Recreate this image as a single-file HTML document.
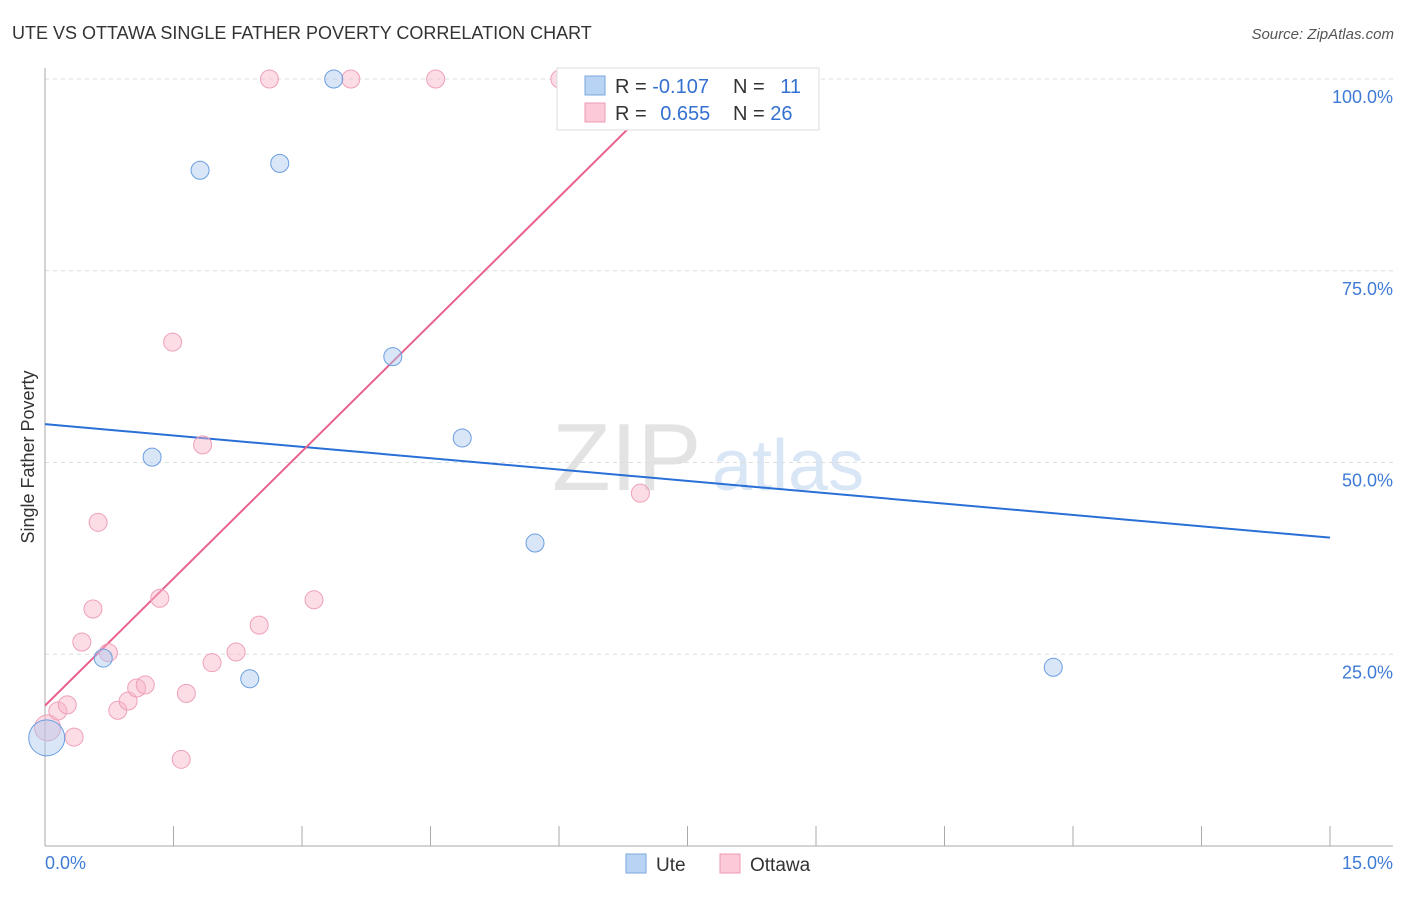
<!DOCTYPE html>
<html><head><meta charset="utf-8"><style>
body{margin:0;background:#fff;font-family:"Liberation Sans",sans-serif}
svg text{font-family:"Liberation Sans",sans-serif}
</style></head><body>
<svg id="chart" width="1406" height="892">
<text x="12" y="39" font-size="18" fill="#333">UTE VS OTTAWA SINGLE FATHER POVERTY CORRELATION CHART</text>
<text x="1394" y="39" font-size="15" fill="#555" font-style="italic" text-anchor="end">Source: ZipAtlas.com</text>
<text x="0" y="0" transform="translate(34,457) rotate(-90)" font-size="18" fill="#333" text-anchor="middle">Single Father Poverty</text>
<g id="wm"><text x="552" y="490" font-size="96" fill="#ddd" font-family="Liberation Serif,serif" opacity="0.8">ZIP</text><text x="712" y="490" font-size="72" fill="#cfe0f3" opacity="0.8">atlas</text></g>
<g id="grid"></g><g id="axes"></g><g id="lines"></g><g id="pts"></g>
<g>
<rect x="557" y="68" width="262" height="62" fill="#fff" stroke="#ddd"/>
<rect x="585" y="76" width="20" height="19" fill="#b9d3f5" stroke="#7aa7e0"/>
<rect x="585" y="103" width="20" height="19" fill="#fbc9d7" stroke="#ee9ab2"/>
<text x="615" y="93" font-size="20" fill="#333">R = <tspan fill="#3470d0">-0.107</tspan></text>
<text x="733" y="93" font-size="20" fill="#333">N = <tspan fill="#3470d0" dx="10">11</tspan></text>
<text x="615" y="120" font-size="20" fill="#333">R = <tspan fill="#3470d0" dx="8">0.655</tspan></text>
<text x="733" y="120" font-size="20" fill="#333">N = <tspan fill="#3470d0">26</tspan></text>
</g>
<g>
<rect x="626" y="854" width="20" height="19" fill="#b9d3f5" stroke="#7aa7e0"/>
<text x="656" y="871" font-size="19" fill="#333">Ute</text>
<rect x="720" y="854" width="20" height="19" fill="#fbc9d7" stroke="#ee9ab2"/>
<text x="750" y="871" font-size="19" fill="#333">Ottawa</text>
</g>
</svg>
<script>
const yTicks=[25,50,75,100];
const yTickLabels=["25.0%","50.0%","75.0%","100.0%"];
const xTickLabels=["0.0%","15.0%"];
const uteX=[0.02,0.68,1.81,2.74,3.37,4.06,4.87,1.25,2.39,5.72,11.77];
const uteY=[14.1,24.5,88.1,89.0,100,63.8,53.2,50.7,21.8,39.5,23.3];
const uteR=[18,9,9,9,9,9,9,9,9,9,9];
const ottX=[0.03,0.15,0.26,0.34,0.43,0.56,0.62,0.74,0.85,0.97,1.07,1.17,1.34,1.49,1.59,1.65,1.84,1.95,2.23,2.50,2.62,3.14,3.57,4.56,6.01,6.95];
const ottY=[15.4,17.6,18.4,14.2,26.6,30.9,42.2,25.2,17.7,18.9,20.6,21.0,32.3,65.7,11.3,19.9,52.3,23.9,25.3,28.8,100,32.1,100,100,100,46.0];
const uteTrend=[55.0,40.2];
const ottTrend=[18.3,11.05];
const X=v=>45+v/15*1285, Y=v=>846-v/100*767;
const NS="http://www.w3.org/2000/svg";
function mk(t,a,p){const e=document.createElementNS(NS,t);for(const k in a)e.setAttribute(k,a[k]);document.getElementById(p).appendChild(e);return e;}
yTicks.forEach((t,i)=>{
 const l=mk('line',{x1:45,x2:1393,y1:Y(t),y2:Y(t),stroke:'#ddd','stroke-dasharray':'4,4'},'grid');
 
 
 const tx=mk('text',{x:1393,y:Y(t)+24,'font-size':18,fill:'#3f7bd6','text-anchor':'end'},'axes');
 tx.textContent=yTickLabels[i];
 
 
});
mk('line',{x1:45,x2:45,y1:68,y2:846,stroke:'#aaa'},'axes');
mk('line',{x1:45,x2:1393,y1:846,y2:846,stroke:'#aaa'},'axes');
for(let i=0;i<=10;i++){const l=mk('line',{x1:X(i*1.5),x2:X(i*1.5),y1:826,y2:846,stroke:'#aaa'},'axes');
 
 }
let t1=mk('text',{x:45,y:869,'font-size':18,fill:'#3f7bd6'},'axes');t1.textContent=xTickLabels[0];


let t2=mk('text',{x:1393,y:869,'font-size':18,fill:'#3f7bd6','text-anchor':'end'},'axes');t2.textContent=xTickLabels[1];


ottX.forEach((x,i)=>{const c=mk('circle',{cx:X(x),cy:Y(ottY[i]),r:i==0?13:9,fill:'rgba(248,180,200,0.45)',stroke:'#eea0b8'},'pts');
 
 });
uteX.forEach((x,i)=>{const c=mk('circle',{cx:X(x),cy:Y(uteY[i]),r:uteR[i],fill:'rgba(170,200,240,0.45)',stroke:'#6a9ee0'},'pts');
 
 });
const ub=mk('line',{x1:X(0),y1:Y(uteTrend[0]),x2:X(15),y2:Y(uteTrend[1]),stroke:'#2a6fd6','stroke-width':2},'lines');


const xe=(100-ottTrend[0])/ottTrend[1];
const pl=mk('line',{x1:X(0),y1:Y(ottTrend[0]),x2:X(xe),y2:Y(100),stroke:'#e8628d','stroke-width':2},'lines');


</script>
</body></html>
